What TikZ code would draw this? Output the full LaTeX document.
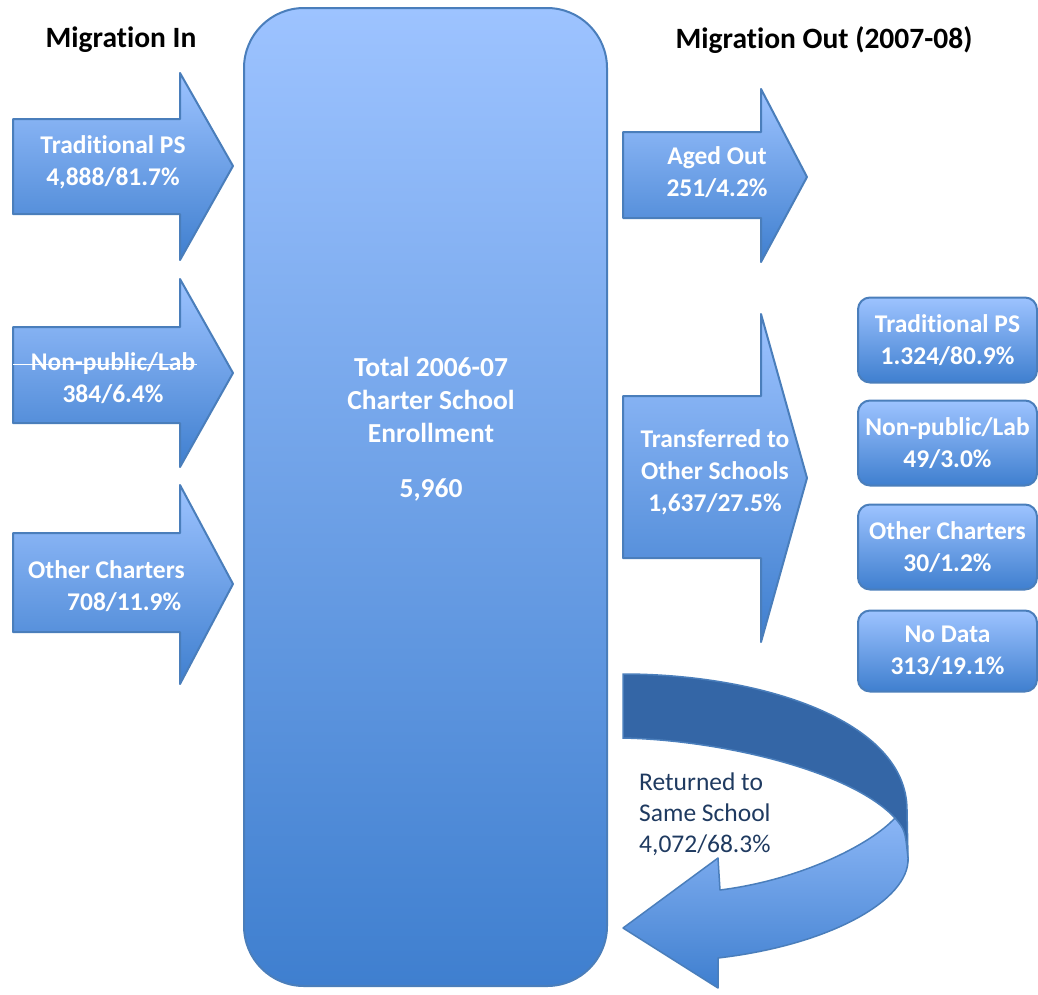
\documentclass[tikz,border=0pt]{standalone}
\usepackage{fontspec}
\setmainfont{Carlito}[Ligatures=NoCommon]
\usetikzlibrary{positioning}

\definecolor{fillTop}{HTML}{9DC3FF}
\definecolor{fillBot}{HTML}{3F7FCF}
\definecolor{edgeBlue}{HTML}{4A7EBB}
\definecolor{darkBand}{HTML}{3466A6}
\definecolor{navyText}{HTML}{1F3A60}

\tikzset{
  blockarrow/.style={draw=edgeBlue, line width=2pt, top color=fillTop, bottom color=fillBot, line join=round},
  arrowlabel/.style={text=white, font=\bfseries\fontsize{25.5}{32}\selectfont, align=center, inner sep=0pt},
  sidebox/.style={draw=edgeBlue, line width=2pt, rounded corners=12pt, top color=fillTop, bottom color=fillBot, minimum width=179pt, minimum height=85pt, inner sep=0pt, text=white, font=\bfseries\fontsize{25.5}{32}\selectfont, align=center},
  header/.style={font=\bfseries\fontsize{29.5}{35}\selectfont, inner sep=0pt}
}

\begin{document}
\begin{tikzpicture}[x=1pt, y=-1pt]
    \useasboundingbox (0,0) rectangle (1038,994);

    % Headers
    \node (inHead) [header] at (121,40) {Migration In};
    \node (outHead) [header] at (824,40) {Migration Out (2007-08)};

    % Total enrollment box
    \node (enroll) [draw=edgeBlue, line width=2pt, rounded corners=60pt, top color=fillTop, bottom color=fillBot, minimum width=363pt, minimum height=978pt, inner sep=0pt] at (425.5,497) {};
    \node (enrollLbl) [arrowlabel, font=\bfseries\fontsize{27.5}{33}\selectfont] at (431,429) {Total 2006-07\\Charter School\\Enrollment\\[22pt]5,960};

    % Arrows coming in
    \draw[blockarrow] (13,119) -- (180,119) -- (180,73) -- (233,166) -- (180,260) -- (180,214) -- (13,214) -- cycle;
    \draw[blockarrow] (13,327) -- (180,327) -- (180,279) -- (233,373) -- (180,467) -- (180,423) -- (13,423) -- cycle;
    \draw[blockarrow] (13,533) -- (180,533) -- (180,485) -- (233,584) -- (180,684) -- (180,632) -- (13,632) -- cycle;
    \node (tradIn) [arrowlabel] at (113,162) {Traditional PS\\4,888/81.7\%};
    \node (labIn) [arrowlabel] at (113,378) {Non-public/Lab\\384/6.4\%};
    \draw[white, line width=1pt] (13,364) -- (197,364);
    \node (otherIn) [arrowlabel, align=left, anchor=west] at (28,586) {Other Charters\\\hspace*{39pt}708/11.9\%};

    % Arrows going out
    \draw[blockarrow] (623,132) -- (761,132) -- (761,89) -- (807,177) -- (761,262) -- (761,218) -- (623,218) -- cycle;
    \draw[blockarrow] (623,396) -- (761,396) -- (761,314) -- (807,478) -- (761,642) -- (761,558) -- (623,558) -- cycle;
    \node (agedOut) [arrowlabel] at (717,172) {Aged Out\\251/4.2\%};
    \node (transOut) [arrowlabel] at (715,472) {Transferred to\\Other Schools\\1,637/27.5\%};

    % Destination boxes
    \node (tradOut) [sidebox] at (947.5,340) {Traditional PS\\1.324/80.9\%};
    \node (labOut) [sidebox, below=16pt of tradOut] {Non-public/Lab\\49/3.0\%};
    \node (otherOut) [sidebox, below=17pt of labOut] {Other Charters\\30/1.2\%};
    \node (noData) [sidebox, below=19pt of otherOut, minimum height=81pt] {No Data\\313/19.1\%};

    % Returning arrow
    \draw[draw=edgeBlue, line width=1.5pt, fill=darkBand] (623,674) .. controls (760,674) and (907,720) .. (907,810) -- (908,858) -- (895,818) .. controls (850,770) and (720,740) .. (623,738) -- cycle;
    \draw[blockarrow, line width=1.5pt, top color=fillTop!80!fillBot] (895,818) .. controls (905,830) .. (908,858) .. controls (910,900) and (830,945) .. (718,958) -- (718,988) -- (623,928) -- (718,858) -- (720,890) .. controls (800,880) and (870,845) .. (895,818) -- cycle;
    \node (returned) [text=navyText, font=\fontsize{25.5}{31}\selectfont, align=left, anchor=west, inner sep=0pt] at (639,814) {Returned to\\Same School\\4,072/68.3\%};

\end{tikzpicture}
\end{document}
